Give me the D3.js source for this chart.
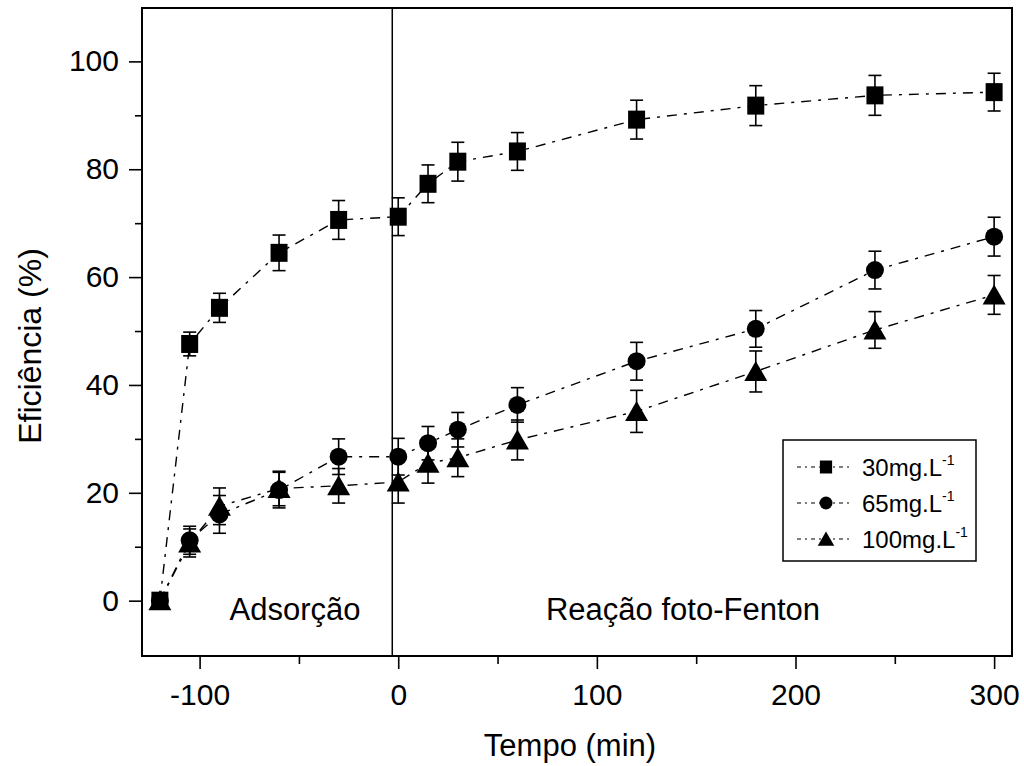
<!DOCTYPE html>
<html>
<head>
<meta charset="utf-8">
<script src="https://cdn.jsdelivr.net/npm/d3@7"></script>
<style>
  body { margin: 0; background: #fff; }
  text { font-family: "Liberation Sans", Arial, sans-serif; fill: #000; }
</style>
</head>
<body>
<div id="chart"></div>
<script>
// tempo (min) e eficiencia (%)
var times = [-120, -105, -90, -60, -30, 0, 15, 30, 60, 120, 180, 240, 300];
var eff30 = [0, 47.6, 54.3, 64.5, 70.6, 71.2, 77.3, 81.4, 83.3, 89.2, 91.8, 93.7, 94.3];
var err30 = [0, 2.2, 2.7, 3.3, 3.6, 3.5, 3.5, 3.6, 3.5, 3.6, 3.7, 3.7, 3.5];
var eff65 = [0, 11.2, 16.0, 20.5, 26.7, 26.7, 29.2, 31.7, 36.3, 44.4, 50.4, 61.3, 67.5];
var err65 = [0, 2.6, 3.5, 3.3, 3.3, 3.4, 3.1, 3.2, 3.2, 3.5, 3.4, 3.5, 3.6];
var eff100 = [0, 10.7, 17.5, 20.8, 21.3, 22.0, 25.5, 26.5, 29.8, 35.1, 42.5, 50.2, 56.7];
var err100 = [0, 2.6, 3.4, 3.2, 3.2, 3.9, 3.7, 3.5, 3.7, 3.9, 3.8, 3.4, 3.6];
var seriesNames = ["30mg.L", "65mg.L", "100mg.L"];
var xTicks = [-100, 0, 100, 200, 300];
var xMinor = [-50, 50, 150, 250];
var yTicks = [0, 20, 40, 60, 80, 100];
var yMinor = [10, 30, 50, 70, 90];
var dividerTime = -3;

var svgWidth = 1024;
var svgHeight = 766;
var margin = { top: 8, right: 12, bottom: 110, left: 142 };
var width = svgWidth - margin.left - margin.right;
var height = svgHeight - margin.top - margin.bottom;

var svg = d3.select("#chart")
  .append("svg")
  .attr("width", svgWidth)
  .attr("height", svgHeight);

var g = svg.append("g")
  .attr("transform", `translate(${margin.left}, ${margin.top})`);

var x = d3.scaleLinear().domain([-129, 309]).range([0, width]);
var y = d3.scaleLinear().domain([-10.26, 109.9]).range([height, 0]);

var series = [
  { name: seriesNames[0], vals: eff30, errs: err30, shape: "square" },
  { name: seriesNames[1], vals: eff65, errs: err65, shape: "circle" },
  { name: seriesNames[2], vals: eff100, errs: err100, shape: "triangle" }
];

// axes (ticks outward, left and bottom only); plain hyphen for negatives
var bottomAxis = d3.axisBottom(x).tickValues(xTicks).tickSize(13).tickPadding(9)
  .tickFormat(d => String(d));
var leftAxis = d3.axisLeft(y).tickValues(yTicks).tickSize(13).tickPadding(10)
  .tickFormat(d => String(d));

var gx = g.append("g").attr("transform", `translate(0, ${height})`).call(bottomAxis);
var gy = g.append("g").call(leftAxis);
g.append("g").attr("transform", `translate(0, ${height})`)
  .call(d3.axisBottom(x).tickValues(xMinor).tickSize(8).tickFormat(""));
g.append("g")
  .call(d3.axisLeft(y).tickValues(yMinor).tickSize(7).tickFormat(""));

g.selectAll(".domain").remove();
g.selectAll(".tick line").attr("stroke", "#000").attr("stroke-width", 1.6);
g.selectAll(".tick text").attr("font-size", 30).attr("fill", "#000")
  .style("font-family", "'Liberation Sans', Arial, sans-serif");
gx.selectAll(".tick text").attr("dy", "0.9em");

// frame
g.append("rect")
  .attr("width", width).attr("height", height)
  .attr("fill", "none").attr("stroke", "#000").attr("stroke-width", 2);

// divider adsorcao / foto-Fenton
g.append("line")
  .attr("x1", x(dividerTime)).attr("x2", x(dividerTime))
  .attr("y1", 0).attr("y2", height)
  .attr("stroke", "#000").attr("stroke-width", 1.5);

function symbolPath(shape, s) {
  if (shape === "square") return `M${-8.5 * s},${-9 * s}h${17 * s}v${18 * s}h${-17 * s}Z`;
  if (shape === "circle") {
    var r = 9 * s;
    return `M${-r},0a${r},${r} 0 1,0 ${2 * r},0a${r},${r} 0 1,0 ${-2 * r},0Z`;
  }
  return `M0,${-10.5 * s}L${11.5 * s},${9.5 * s}L${-11.5 * s},${9.5 * s}Z`;
}

var line = d3.line().x(d => x(d.t)).y(d => y(d.v));

series.forEach(function (s) {
  var pts = times.map((t, i) => ({ t: t, v: s.vals[i], e: s.errs[i] }));

  // dash-dot connecting line
  g.append("path")
    .datum(pts)
    .attr("d", line)
    .attr("fill", "none")
    .attr("stroke", "#000")
    .attr("stroke-width", 1.4)
    .attr("stroke-dasharray", "10,7,3,7");

  // error bars
  var eb = g.append("g").selectAll("g")
    .data(pts.filter(d => d.e > 0))
    .enter().append("g")
    .attr("stroke", "#000").attr("stroke-width", 1.6);
  eb.append("line")
    .attr("x1", d => x(d.t)).attr("x2", d => x(d.t))
    .attr("y1", d => y(d.v - d.e)).attr("y2", d => y(d.v + d.e));
  eb.append("line")
    .attr("x1", d => x(d.t) - 6.5).attr("x2", d => x(d.t) + 6.5)
    .attr("y1", d => y(d.v + d.e)).attr("y2", d => y(d.v + d.e));
  eb.append("line")
    .attr("x1", d => x(d.t) - 6.5).attr("x2", d => x(d.t) + 6.5)
    .attr("y1", d => y(d.v - d.e)).attr("y2", d => y(d.v - d.e));

  // markers
  g.append("g").selectAll("path")
    .data(pts)
    .enter().append("path")
    .attr("transform", d => `translate(${x(d.t)}, ${y(d.v)})`)
    .attr("d", symbolPath(s.shape, 1))
    .attr("fill", "#000");
});

// region labels
g.append("text")
  .attr("x", 153).attr("y", 612)
  .attr("text-anchor", "middle")
  .attr("font-size", 31)
  .text("Adsorção");
g.append("text")
  .attr("x", 541).attr("y", 612)
  .attr("text-anchor", "middle")
  .attr("font-size", 31)
  .text("Reação foto-Fenton");

// legend
var legend = svg.append("g").attr("transform", "translate(783, 440)");
legend.append("rect")
  .attr("width", 193).attr("height", 121)
  .attr("fill", "#fff").attr("stroke", "#000").attr("stroke-width", 1.5);

var rows = legend.selectAll(".row")
  .data(series)
  .enter().append("g")
  .attr("class", "row")
  .attr("transform", (d, i) => `translate(0, ${27 + i * 36})`);
rows.append("line")
  .attr("x1", 14).attr("x2", 70)
  .attr("stroke", "#000").attr("stroke-width", 1.2)
  .attr("stroke-dasharray", "4,4,2,4");
rows.append("path")
  .attr("transform", "translate(43, 0)")
  .attr("d", d => symbolPath(d.shape, 0.72))
  .attr("fill", "#000");
var lt = rows.append("text")
  .attr("x", 79).attr("y", 9)
  .attr("font-size", 24);
lt.append("tspan").text(d => d.name);
lt.append("tspan").attr("font-size", 14).attr("dy", -11).text("-1");

// axis titles
svg.append("text")
  .attr("x", margin.left + width / 2 - 7).attr("y", 756)
  .attr("text-anchor", "middle")
  .attr("font-size", 31)
  .text("Tempo (min)");
svg.append("text")
  .attr("transform", "translate(41, 346) rotate(-90)")
  .attr("text-anchor", "middle")
  .attr("font-size", 32)
  .text("Eficiência (%)");
</script>
</body>
</html>
